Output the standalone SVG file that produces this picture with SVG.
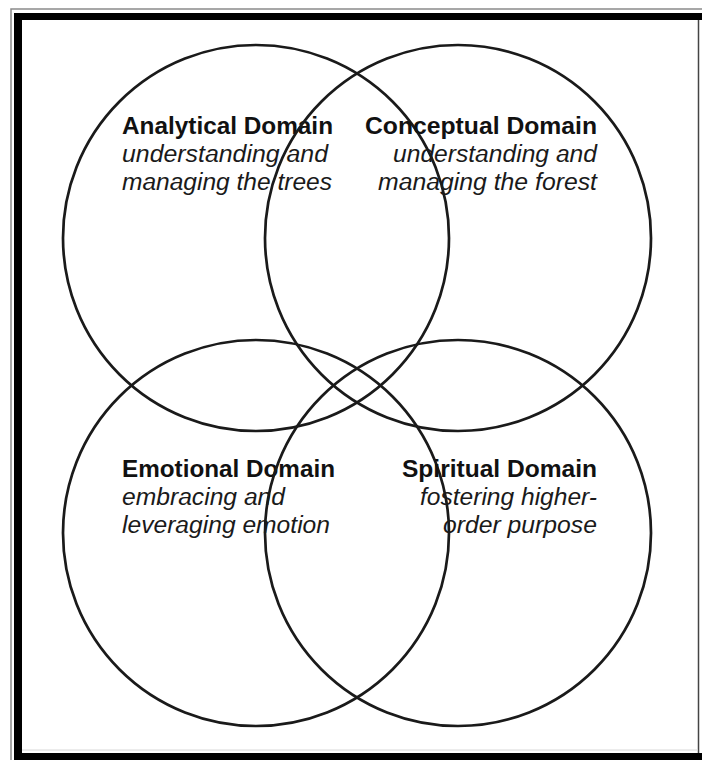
<svg xmlns="http://www.w3.org/2000/svg" width="702" height="760" viewBox="0 0 702 760">
<style>
.ring{fill:none;stroke:#1a1a1a;stroke-width:2.7}
.title{font-family:"Liberation Sans",Arial,sans-serif;font-weight:bold;font-size:23px;fill:#111}
.sub{font-family:"Liberation Sans",Arial,sans-serif;font-style:italic;font-size:23px;fill:#1a1a1a}
.end{text-anchor:end}
</style>
<rect x="0" y="0" width="702" height="760" fill="#fff"/>
<g id="frame">
<path d="M11,760 V9 H702" fill="none" stroke="#8a8a8a" stroke-width="1.5"/>
<rect x="14" y="13" width="688" height="7" fill="#000"/>
<rect x="14" y="13" width="8" height="747" fill="#000"/>
<rect x="14" y="753" width="688" height="7" fill="#000"/>
<line x1="698.5" y1="20" x2="698.5" y2="753" stroke="#444" stroke-width="1.5"/>
<line x1="22" y1="750" x2="698" y2="750" stroke="#d8d8d8" stroke-width="1"/>
</g>
<g id="connectors"></g>
<g id="analytical">
<circle class="ring" cx="256" cy="238" r="193"/>
<text class="title" x="122" y="134" textLength="211" lengthAdjust="spacingAndGlyphs">Analytical Domain</text>
<text class="sub" x="122" y="162" textLength="206" lengthAdjust="spacingAndGlyphs">understanding and</text>
<text class="sub" x="122" y="190" textLength="210" lengthAdjust="spacingAndGlyphs">managing the trees</text>
</g>
<g id="conceptual">
<circle class="ring" cx="458" cy="238" r="193"/>
<text class="title end" x="597" y="134" textLength="232" lengthAdjust="spacingAndGlyphs">Conceptual Domain</text>
<text class="sub end" x="597" y="162" textLength="204" lengthAdjust="spacingAndGlyphs">understanding and</text>
<text class="sub end" x="597" y="190" textLength="219" lengthAdjust="spacingAndGlyphs">managing the forest</text>
</g>
<g id="emotional">
<circle class="ring" cx="256" cy="533" r="193"/>
<text class="title" x="122" y="477" textLength="213" lengthAdjust="spacingAndGlyphs">Emotional Domain</text>
<text class="sub" x="122" y="505" textLength="163" lengthAdjust="spacingAndGlyphs">embracing and</text>
<text class="sub" x="122" y="533" textLength="208" lengthAdjust="spacingAndGlyphs">leveraging emotion</text>
</g>
<g id="spiritual">
<circle class="ring" cx="458" cy="533" r="193"/>
<text class="title end" x="597" y="477" textLength="195" lengthAdjust="spacingAndGlyphs">Spiritual Domain</text>
<text class="sub end" x="597" y="505" textLength="177" lengthAdjust="spacingAndGlyphs">fostering higher-</text>
<text class="sub end" x="597" y="533" textLength="154" lengthAdjust="spacingAndGlyphs">order purpose</text>
</g>
</svg>
